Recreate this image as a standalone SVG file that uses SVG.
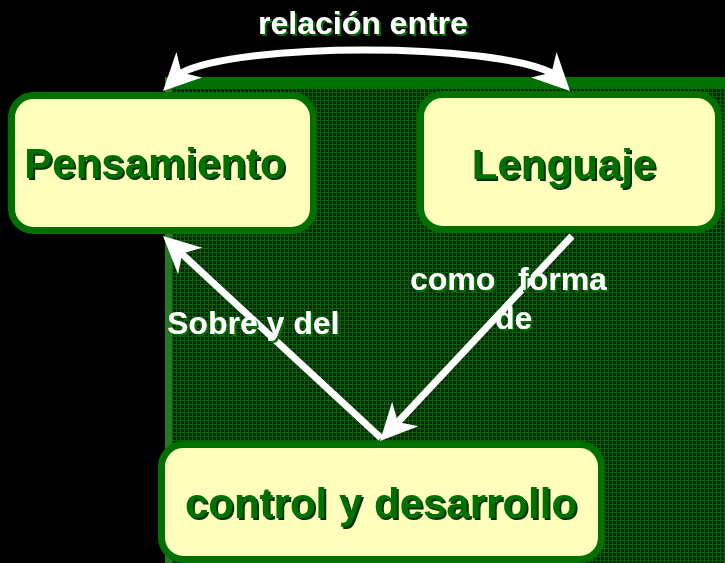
<svg xmlns="http://www.w3.org/2000/svg" xmlns:xlink="http://www.w3.org/1999/xlink" width="725" height="563" viewBox="0 0 725 563">
<style>
.node rect{fill:#FFFFBB;stroke:#007000;stroke-width:7}
.ntxt{font-family:"Liberation Sans",Arial,sans-serif;font-weight:bold;font-size:42px;text-anchor:middle;fill:#007000;filter:url(#shN)}
.ltxt{font-family:"Liberation Sans",Arial,sans-serif;font-weight:bold;font-size:32px;fill:#FFFFFF;filter:url(#shL)}
.shaft{fill:none;stroke:#FFFFFF;stroke-width:7}
.head{fill:#FFFFFF}
</style>
<defs>
<pattern id="grid" width="4" height="4" patternUnits="userSpaceOnUse">
<rect width="4" height="4" fill="#022a02"/>
<rect x="0" y="0" width="4" height="1" fill="#0e5e0e"/>
<rect x="0" y="0" width="1" height="4" fill="#0e5e0e"/>
</pattern>
<filter id="shN" x="-10%" y="-20%" width="120%" height="140%">
<feOffset in="SourceAlpha" dx="2" dy="2" result="o"/>
<feFlood flood-color="#003000"/>
<feComposite in2="o" operator="in" result="s"/>
<feMerge><feMergeNode in="s"/><feMergeNode in="SourceGraphic"/></feMerge>
</filter>
<filter id="shL" x="-10%" y="-20%" width="120%" height="140%">
<feOffset in="SourceAlpha" dx="2" dy="2" result="o"/>
<feFlood flood-color="#007000"/>
<feComposite in2="o" operator="in" result="s"/>
<feMerge><feMergeNode in="s"/><feMergeNode in="SourceGraphic"/></feMerge>
</filter>
<path id="ah" d="M0,0 L-37,-18 L-26,0 L-37,18 Z"/>
</defs>
<rect width="725" height="563" fill="#000000"/>
<g id="panel">
<rect x="165" y="77" width="570" height="500" fill="url(#grid)"/>
<rect x="165" y="77" width="570" height="12" fill="#007000"/>
<rect x="165" y="77" width="7" height="500" fill="#237a23"/>
</g>
<g id="connectors">
<path class="shaft" d="M181,73 C240,42.3 490,42.3 552,73"/>
<use xlink:href="#ah" class="head" transform="translate(163,91) rotate(135)"/>
<use xlink:href="#ah" class="head" transform="translate(570,91) rotate(45)"/>
<path class="shaft" d="M381,438 L182,254"/>
<use xlink:href="#ah" class="head" transform="translate(163,236) rotate(222.5)"/>
<path class="shaft" d="M572,236 L398,422"/>
<use xlink:href="#ah" class="head" transform="translate(380,441) rotate(133.1)"/>
<text class="ltxt" id="label-relacion" x="258" y="34">relación entre</text>
<text class="ltxt" id="label-sobre" x="167" y="334">Sobre y del</text>
<text class="ltxt" id="label-como" y="290"><tspan x="410">como</tspan><tspan x="518">forma</tspan><tspan x="495" y="329">de</tspan></text>
</g>
<g id="node-pensamiento" class="node">
<rect x="11.5" y="95.5" width="302" height="135" rx="22"/>
<text class="ntxt" x="155" y="178">Pensamiento</text>
</g>
<g id="node-lenguaje" class="node">
<rect x="420.5" y="94.5" width="298" height="135" rx="22"/>
<text class="ntxt" x="564" y="179">Lenguaje</text>
</g>
<g id="node-control" class="node">
<rect x="161.5" y="444.5" width="440" height="115" rx="22"/>
<text class="ntxt" x="381" y="518">control y desarrollo</text>
</g>
</svg>
